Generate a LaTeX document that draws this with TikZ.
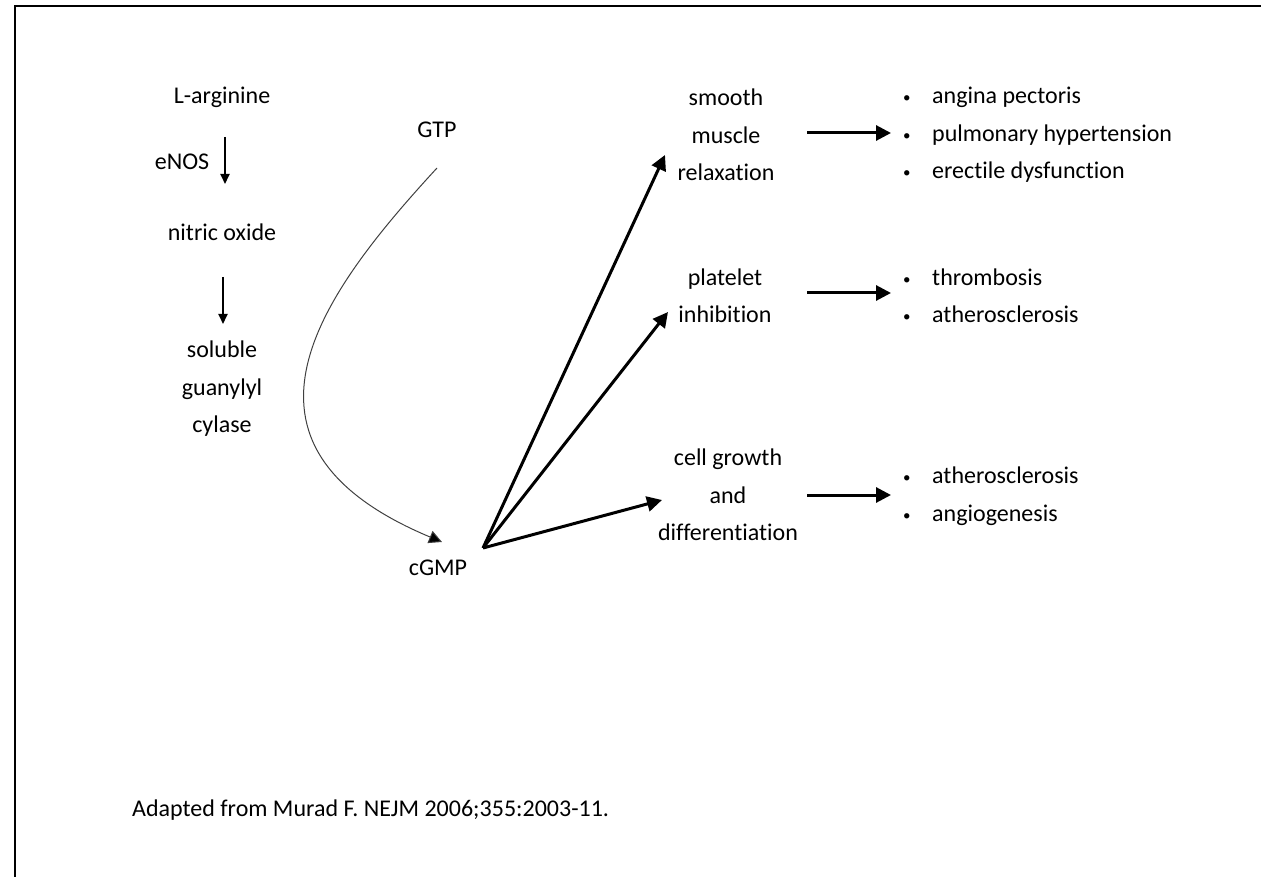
\documentclass[tikz,border=0pt]{standalone}
\usepackage{fontspec}
\setmainfont{Carlito}[RawFeature=-liga]
\usetikzlibrary{arrows.meta}
\newcommand{\bul}{\makebox[34pt][l]{\hspace{5pt}\raisebox{1pt}{\fontsize{15}{15}\selectfont\textbullet}}}
\begin{document}
\begin{tikzpicture}[x=1pt,y=-1pt,
  lbl/.style={inner sep=0pt,align=center,font=\fontsize{24}{37.5}\selectfont},
  bl/.style={inner sep=0pt,align=left,anchor=west,font=\fontsize{24}{37.5}\selectfont},
  small/.style={line width=1.8pt,-{Triangle[length=10pt,width=9pt]}},
  big/.style={line width=3pt,-{Triangle[length=15pt,width=15pt]}},
  thin/.style={line width=1pt,draw=black!75,-{Triangle[length=13pt,width=13pt,fill=black]}}]
\useasboundingbox (0,0) rectangle (1261,877);
\draw[line width=2pt] (15,877) -- (15,6) -- (1261,6);
% left column
\node[lbl] (arg) at (222,97) {L-arginine};
\node[lbl] (enos) at (182,162) {eNOS};
\node[lbl] (no) at (222,232) {nitric oxide};
\node[lbl] (sgc) at (222,389) {soluble\\guanylyl\\cylase};
\coordinate (a1s) at (225,137); \coordinate (a1e) at (225,184);
\coordinate (a2s) at (223,277); \coordinate (a2e) at (223,324);
\draw[small] (a1s) -- (a1e);
\draw[small] (a2s) -- (a2e);
% GTP and cGMP
\node[lbl] (gtp) at (437,130) {GTP};
\node[lbl] (cgmp) at (438,568) {cGMP};
\coordinate (cs) at (437,168);
\coordinate (ce) at (442,542);
\draw[thin] (cs) .. controls (320,295) and (210,445) .. (ce);
% middle column
\node[lbl] (smr) at (726,135) {smooth\\muscle\\relaxation};
\node[lbl] (pi) at (725,296) {platelet\\inhibition};
\node[lbl] (cg) at (728,495) {cell growth\\and\\differentiation};
\coordinate (o) at (483,548);
\coordinate (t1) at (665,155);
\coordinate (t2) at (668,312);
\coordinate (t3) at (662,500);
\draw[big] (o) -- (t1);
\draw[big] (o) -- (t2);
\draw[big] (o) -- (t3);
% horizontal arrows
\coordinate (h1s) at (807,133); \coordinate (h1e) at (891,133);
\coordinate (h2s) at (807,293); \coordinate (h2e) at (891,293);
\coordinate (h3s) at (807,495); \coordinate (h3e) at (891,495);
\draw[big] (h1s) -- (h1e);
\draw[big] (h2s) -- (h2e);
\draw[big] (h3s) -- (h3e);
% right column
\node[bl] (r1) at (898,135) {\bul angina pectoris\\\bul pulmonary hypertension\\\bul erectile dysfunction};
\node[bl] (r2) at (898,296) {\bul thrombosis\\\bul atherosclerosis};
\node[bl] (r3) at (898,496) {\bul atherosclerosis\\\bul angiogenesis};
% source
\node[bl] (src) at (132,810) {Adapted from Murad F. NEJM 2006;355:2003-11.};
\end{tikzpicture}
\end{document}
